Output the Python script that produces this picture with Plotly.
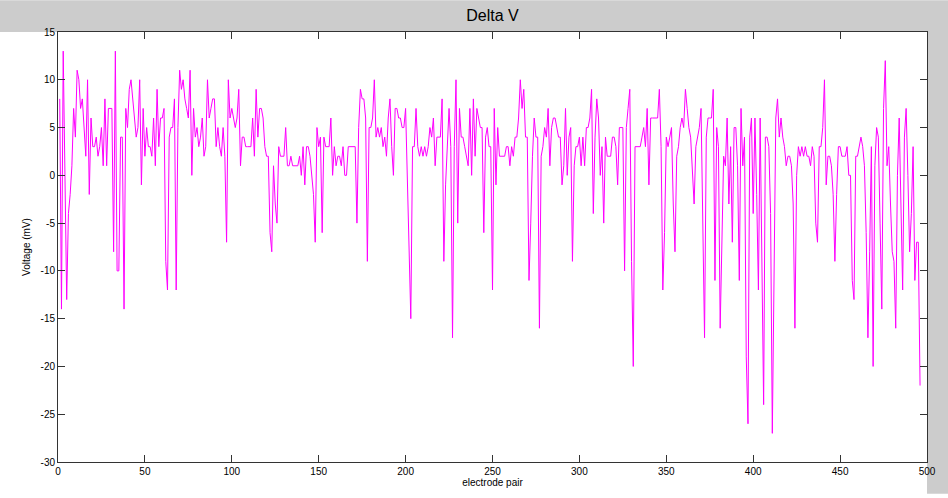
import plotly.graph_objects as go

# Delta V per electrode pair (mV)
delta_v_mV = [
    8, -14, 13, -2, -13, -4, -2, 1, 7, 4, 11, 10, 7, 8, 5, 2, 10, -2, 6, 3,
    3, 4, 2, 3, 5, 1, 8, 1, 7, 7, 7, -8, 13, -10, -10, 4, 4, -14, 7, 5,
    9, 10,
    8, 6, 4, 5, 10, -1, 7, 2, 5, 3, 3, 2, 6, 1, 9, 3, 6, 6, 7, -9, -12, 4,
    5, 5, 8, -12, 5, 11, 9, 10, 8, 7, 6, 11, 0, 7, 4, 5, 3, 4, 6, 2,
    3, 10, 6, 7, 8, 8, 3, 5, 3, 2, 5, 2, -7, 10, 6, 7, 6, 5, 6, 9, 1, 4,
    4, 3, 3, 3, 3, 6, 2, 9, 4, 7, 7, 6, 3, 2, 2, -6, -8, 1, -3, -5, 3, 2, 2,
    2, 5, 1, 1, 2, 1, 1, 1, 1, 2, 0, 3, -1, 3, 3, 2, 0, -2, -7, 5, 3, 4,
    -6, 4, 3, 3, 3, 6, 0, 3, 1, 2, 2, 1, 3, 0, 0, 3, 3, 3, 3, 3, -5,
    5, 9, 8, 8, 6, -9, 5, 5, 6, 10, 4, 5, 4, 5, 3, 4, 2, 6, 8, 3, 0, 7, 7,
    6, 6, 5, 5, 7, -1, -6, -15, 3, 3, 7, 3, 2, 3, 2, 3, 2, 3, 5, 4,
    6, 1, 4, 4, 4, 8, -9, -1, 4, 7, 3, -17, 3, 10, -5, 7, 4, 4, 3, 2, 1,
    7, 0, 8, 2, 7, 6, 5, 5, -6, 4, 5, 3, 3, -12, 7, -1, 5, 2, 2, 2, 2, 3,
    3, 1, 3, 2, 4, 4, 6, 10, 7, 9, 4, 4, -11, -5, 2, 6, 4, 4, -16, 2, 3,
    5, 4, 7, 1, 5, 6, 6, 5, 4, 4, -1, 1, 7, 0, 4, 5, -9, 1, 3, 3, 4, 1,
    4, 1, 5, 5, 6, 9, -4, 4, 8, 6, 0, 3, -5, 4, 2, 2, 2, 4, 4, 3, -1, 5,
    5, 5, -10, 5, 7, 9, -9, -20, 3, 3, 3, 3, 4, 5, 3, 7, -1, 6, 6, 6, 6, 6,
    9, 3, -12, -6, 4, 3, 4, 5, -3, -8, 2, 3, 5, 6, 5, 9, 7, 5, 4, 0, -3,
    3, 4, 5, 7, -6, -17, 4, 6, 6, 6, 9, -11, 5, 3, -16, -5, 2, 1, 6, -3, 3,
    -7,
    5, 5, 1, -11, 7, 1, 4, -19, -26, 4, 6, -4, 6, -2, -12, 6, -9, -24, 4, 4,
    3, -4, -27, -8, 6, 8, 4, 6, 4, 3, 1, 2, 2, 1, -3, -16, 0, 3, 2, 3, 2,
    3, 2,
    2, 1, 3, 2, -5, -7, 3, 3, 5, 10, -1, 2, 2, 1, -2, -9, -2, 3, 3, 2, 2,
    2, 3, 0, 0, -11, -13, 2, 2, 3, 4, 3, 1, -6, -17, -8,
    3, -20, 1, 5, 4, -5, -14, 7, 12, 1, 3, -3, -8, -9, -16, 0, 6, -3, -12,
    4, 7, 0, -8, -4, 3, -11, -7, -7, -22,
]
electrode_pair = list(range(1, len(delta_v_mV) + 1))

x_ticks = list(range(0, 501, 50))
y_ticks = list(range(-30, 16, 5))
x_tick_labels = [str(v) for v in x_ticks]
y_tick_labels = [str(v) for v in y_ticks]  # ASCII hyphen minus, as in MATLAB

fig = go.Figure()
fig.add_trace(go.Scatter(
    x=electrode_pair, y=delta_v_mV, mode="lines",
    line=dict(color="#ff00ff", width=1),
    hoverinfo="x+y", showlegend=False,
))

axis_common = dict(
    showgrid=False, zeroline=False, showline=True, linecolor="#333333",
    linewidth=1, mirror="allticks", ticks="inside", ticklen=7,
    tickcolor="#333333", tickfont=dict(family="Liberation Sans, Arial",
                                       size=10, color="#000000"),
)

fig.update_layout(
    width=948, height=498,
    margin=dict(l=58, r=21, t=32, b=32),
    paper_bgcolor="#ffffff", plot_bgcolor="#ffffff",
    title=dict(text="Delta V", x=(58 + 927) / 2 / 948, xanchor="center",
               y=1 - 15 / 498, yanchor="middle",
               font=dict(family="Liberation Sans, Arial", size=16,
                         color="#000000")),
    xaxis=dict(range=[0, 500], tickvals=x_ticks, ticktext=x_tick_labels,
               title=dict(text="electrode pair", standoff=2,
                          font=dict(family="Liberation Sans, Arial", size=10,
                                    color="#000000")),
               **axis_common),
    yaxis=dict(range=[-30, 15], tickvals=y_ticks, ticktext=y_tick_labels,
               title=dict(text="Voltage (mV)", standoff=8,
                          font=dict(family="Liberation Sans, Arial", size=10,
                                    color="#000000")),
               **axis_common),
    shapes=[
        dict(type="rect", xref="paper", yref="paper", x0=-58 / 869, x1=1 + 21 / 869,
             y0=1, y1=1 + 32 / 434, fillcolor="#cccccc", line=dict(width=0),
             layer="below"),
        dict(type="rect", xref="paper", yref="paper", x0=1, x1=1 + 21 / 869,
             y0=-32 / 434, y1=1, fillcolor="#cccccc", line=dict(width=0),
             layer="below"),
    ],
)

fig.write_html("out.html")
